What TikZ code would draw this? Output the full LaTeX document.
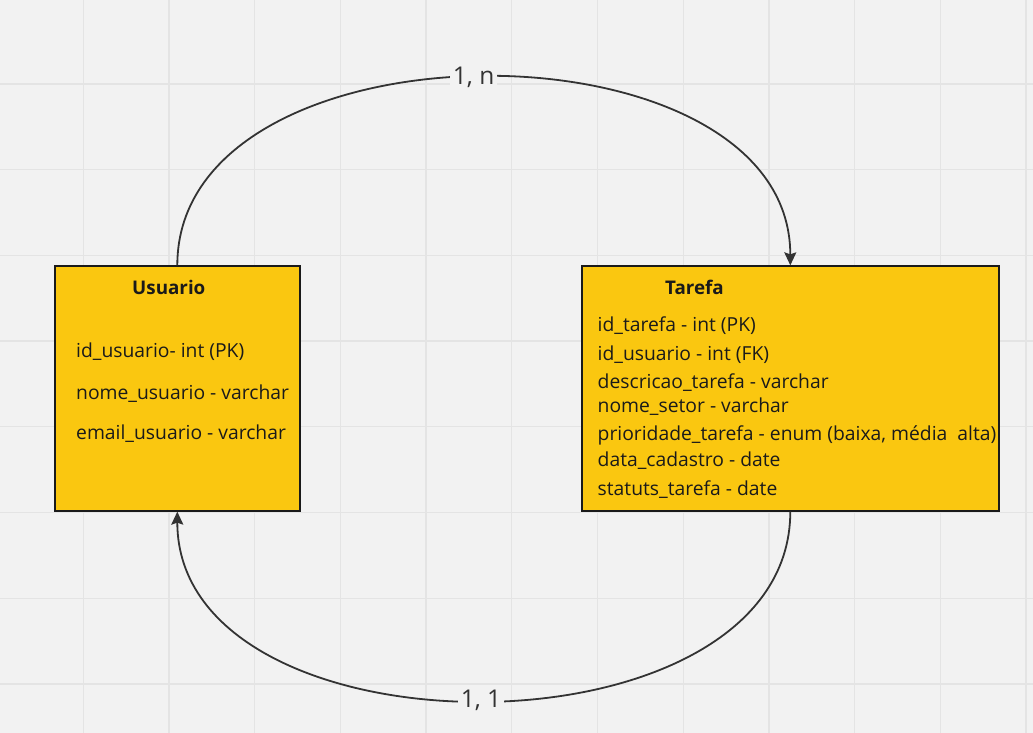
\documentclass[tikz,border=0pt]{standalone}
\usepackage{fontspec}
\setmainfont{Open Sans}
\usetikzlibrary{arrows.meta}
\definecolor{bg}{HTML}{F2F2F2}
\definecolor{gridc}{HTML}{E4E4E4}
\definecolor{boxfill}{HTML}{FAC710}
\definecolor{boxline}{HTML}{1A1A1A}
\definecolor{linec}{HTML}{333333}
\definecolor{txt}{HTML}{1A1A1A}
\tikzset{
  entity/.style={draw=boxline, line width=1.8pt, fill=boxfill, inner sep=0pt},
  attr/.style={anchor=base west, inner sep=0pt, text=txt, font=\fontsize{19.3}{23}\selectfont},
  etitle/.style={anchor=base west, inner sep=0pt, text=txt, font=\bfseries\fontsize{18.8}{23}\selectfont},
  rel/.style={draw=linec, line width=1.8pt, -{Stealth[length=13pt,width=12pt,inset=2pt]}},
  card/.style={fill=bg, text=linec, inner sep=3pt, font=\fontsize{24.5}{28}\selectfont}
}
\begin{document}
\begin{tikzpicture}[x=1pt,y=-1pt]
\useasboundingbox (0,0) rectangle (1033,733);
\fill[bg] (0,0) rectangle (1033,733);
% grid
\foreach \i in {0,...,12} {
  \draw[gridc, line width=1.3pt] ({-2.4+85.7*\i},0) -- ({-2.4+85.7*\i},733);
}
\foreach \j in {1,...,8} {
  \draw[gridc, line width=1.3pt] (0,{-1.7+85.7*\j}) -- (1033,{-1.7+85.7*\j});
}
% entities
\node[entity, minimum width=245pt, minimum height=244.5pt] (usuario) at (177.3,388.5) {};
\node[entity, minimum width=417.3pt, minimum height=244.5pt] (tarefa) at (790.3,388.5) {};
% Usuario texts
\node[etitle] (ut) at (132,294) {Usuario};
\node[attr] (u1) at (76,357.3) {id\_usuario- int (PK)};
\node[attr] (u2) at (76,399) {nome\_usuario - varchar};
\node[attr] (u3) at (76,439.5) {email\_usuario - varchar};
% Tarefa texts
\node[etitle] (tt) at (665,294) {Tarefa};
\node[attr] (t1) at (597.5,331.7) {id\_tarefa - int (PK)};
\node[attr] (t2) at (597.5,360) {id\_usuario - int (FK)};
\node[attr] (t3) at (597.5,388.3) {descricao\_tarefa - varchar};
\node[attr] (t4) at (597.5,412.7) {nome\_setor - varchar};
\node[attr] (t5) at (597.5,440) {prioridade\_tarefa - enum (baixa, média\ \ alta)};
\node[attr] (t6) at (597.5,466.7) {data\_cadastro - date};
\node[attr] (t7) at (597.5,495) {statuts\_tarefa - date};
% relations
\draw[rel] (usuario.north) .. controls +(0,-251) and +(0,-251) .. node[card, pos=0.489] (c1) {1, n} (tarefa.north);
\draw[rel] (tarefa.south) .. controls +(0,252) and +(0,252) .. node[card, pos=0.503] (c2) {1, 1} (usuario.south);
\end{tikzpicture}
\end{document}
